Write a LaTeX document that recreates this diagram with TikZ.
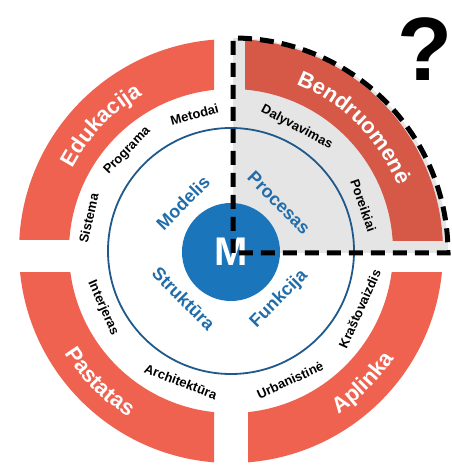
\documentclass[tikz,border=0pt]{standalone}
\usepackage{fontspec}
\setmainfont{Liberation Sans}
\usepackage{xcolor}
\usepackage{tikz}
\usetikzlibrary{decorations.text}
\definecolor{bandred}{RGB}{239,98,80}
\definecolor{ringblue}{RGB}{31,88,138}
\definecolor{coreblue}{RGB}{27,117,187}
\definecolor{labelblue}{RGB}{33,108,170}
\newcommand{\bandfont}{\fontsize{22}{26}\selectfont\bfseries}
\tikzset{
    wheelband/.style={fill=bandred, even odd rule},
    wheelshade/.style={fill=black, opacity=0.1},
    wheelring/.style={draw=ringblue, line width=1.8pt},
    wheelcore/.style={circle, fill=coreblue, text=white, minimum size=98pt, inner sep=0pt, font=\fontsize{40}{40}\selectfont\bfseries},
    wheelinner/.style={text=labelblue, inner sep=0pt, font=\fontsize{18}{20}\selectfont\bfseries},
    wheeltag/.style={text=black, inner sep=0pt, font=\fontsize{13}{15}\selectfont\bfseries},
    wheeltitle/.style={decorate, decoration={text along path, text align=center, text color=white, text={|\bandfont|#1}}},
    wheeldash/.style={draw=black, line width=5pt, dash pattern=on 14pt off 8pt}
}

\begin{document}
\begin{tikzpicture}[x=1pt, y=1pt]
    \useasboundingbox (-231,-219) rectangle (220,251);

    \begin{scope}
        \clip (-250,11) rectangle (-17,250);
        \fill[wheelband] (0,0) circle[radius=212] (0,0) circle[radius=162];
    \end{scope}
    \begin{scope}
        \clip (14,10) rectangle (250,250);
        \fill[wheelband] (0,0) circle[radius=212] (0,0) circle[radius=162];
    \end{scope}
    \begin{scope}
        \clip (-250,-22) rectangle (-17,-250);
        \fill[wheelband] (0,0) circle[radius=212] (0,0) circle[radius=162];
    \end{scope}
    \begin{scope}
        \clip (17,-22) rectangle (250,-250);
        \fill[wheelband] (0,0) circle[radius=212] (0,0) circle[radius=162];
    \end{scope}

    \coordinate (corner) at (2,-2);
    \fill[wheelshade] (corner) -- (2,213) arc[start angle=90, end angle=0, radius=215] -- cycle;

    \draw[wheelring] (0,0) circle[radius=123];
    \node[wheelcore] (core) at (0,-1) {M};

    \path[wheeltitle=Edukacija] (181:179) arc[start angle=181, end angle=91, radius=179];
    \path[wheeltitle=Bendruomenė] (90:179) arc[start angle=90, end angle=0, radius=179];
    \path[wheeltitle=Pastatas] (180:195) arc[start angle=180, end angle=270, radius=195];
    \path[wheeltitle=Aplinka] (270:195) arc[start angle=270, end angle=360, radius=195];

    \node[wheelinner, rotate=45] (modelis) at (135:68) {Modelis};
    \node[wheelinner, rotate=-45] (procesas) at (45:68) {Procesas};
    \node[wheelinner, rotate=-45] (struktura) at (225:67) {Struktūra};
    \node[wheelinner, rotate=45] (funkcija) at (315:68) {Funkcija};

    \node[wheeltag, rotate=15] (metodai) at (105:141) {Metodai};
    \node[wheeltag, rotate=46] (programa) at (136:144) {Programa};
    \node[wheeltag, rotate=77] (sistema) at (167:146) {Sistema};
    \node[wheeltag, rotate=-66] (interjeras) at (204:140) {Interjeras};
    \node[wheeltag, rotate=-21] (architektura) at (249:140) {Architektūra};
    \node[wheeltag, rotate=24.6] (urbanistine) at (294.6:142) {Urbanistinė};
    \node[wheeltag, rotate=65.8] (krastovaizdis) at (335.8:141) {Kraštovaizdis};
    \node[wheeltag, rotate=-28] (dalyvavimas) at (62:140) {Dalyvavimas};
    \node[wheeltag, rotate=-71] (poreikiai) at (19:140) {Poreikiai};

    \draw[wheeldash] (corner) -- (2,213) arc[start angle=90, end angle=0, radius=215] -- cycle;

    \node[font=\fontsize{90}{90}\selectfont\bfseries] (query) at (194,202) {?};
\end{tikzpicture}
\end{document}
